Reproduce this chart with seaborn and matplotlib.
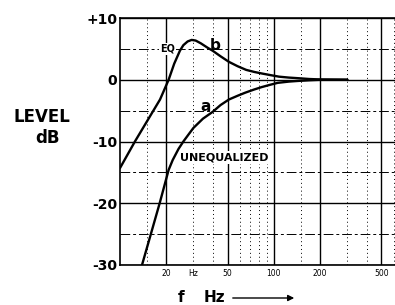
import pandas as pd
import seaborn as sns
import matplotlib.pyplot as plt

# Response curves (frequency in Hz, level in dB)
eq_freq = [10, 12.5, 15, 18.2, 20.7, 22.5, 24.5, 25.8, 27.5, 29.2, 31, 33.5, 37, 40, 45, 51, 58, 66, 75, 84,
           95, 108, 125, 144, 170, 200, 300]
eq_level = [-14.3, -10, -6.7, -3.2, 0, 2.6, 4.7, 5.6, 6.2, 6.45, 6.35, 5.9, 5.2, 4.7, 3.8, 2.9, 2.2, 1.6, 1.25, 1.0,
            0.75, 0.5, 0.35, 0.25, 0.12, 0.05, 0]

uneq_freq = [13.9, 18.1, 20.7, 22, 24, 25.8, 28, 30, 34.6, 40, 45, 51, 58, 65, 74, 83, 95, 106, 125, 142, 170, 200, 300]
uneq_level = [-30, -20, -14.6, -13, -11.2, -10, -8.8, -7.8, -6.3, -5.2, -4.1, -3.2, -2.6, -2.1, -1.6, -1.2, -0.8, -0.5,
              -0.3, -0.2, -0.08, 0, 0]

level_ticks = [-30, -20, -10, 0, 10]
level_labels = ["-30", "-20", "-10", "0", "+10"]
freq_ticks = [20, 50, 100, 200, 500]
freq_labels = ["20", "50", "100", "200", "500"]
freq_minor = [15, 30, 40, 60, 70, 80, 90, 150, 300, 400, 600]
freq_minor_labels = ["", "Hz", "", "", "", "", "", "", "", "", ""]

curves = pd.concat([
    pd.DataFrame({"f": eq_freq, "dB": eq_level, "curve": "b"}),
    pd.DataFrame({"f": uneq_freq, "dB": uneq_level, "curve": "a"}),
])

sns.set_style("white")
plt.rcParams["font.family"] = ["DejaVu Sans"]
plt.rcParams["text.color"] = "black"
plt.rcParams["xtick.color"] = "black"
plt.rcParams["ytick.color"] = "black"

fig = plt.figure(figsize=(3.95, 3.05), dpi=100)
ax = fig.add_axes([120 / 395, 40 / 305, 275 / 395, 247 / 305])

sns.lineplot(data=curves, x="f", y="dB", units="curve", estimator=None, color="black",
             linewidth=1.7, ax=ax, legend=False, solid_joinstyle="round", solid_capstyle="round")

ax.set_xscale("log")
ax.set_xlim(10, 612)
ax.set_ylim(-30, 10)

ax.set_yticks(level_ticks, labels=level_labels, fontsize=10, fontweight="bold")
ax.set_yticks([-25, -15, -5, 5], minor=True)
ax.set_xticks(freq_ticks, labels=freq_labels, fontsize=5.5)
ax.set_xticks(freq_minor, labels=freq_minor_labels, minor=True, fontsize=5.5)
ax.tick_params(axis="both", which="both", length=0, colors="black")
ax.tick_params(axis="y", pad=2)
ax.tick_params(axis="x", which="both", pad=3)

ax.grid(which="major", color="black", linewidth=1.0, linestyle="-")
ax.grid(which="minor", axis="x", color="black", linewidth=0.7, linestyle=(0, (1, 3)))
ax.grid(which="minor", axis="y", color="black", linewidth=0.7, linestyle=(0, (10, 3, 3, 3)))
ax.set_axisbelow(True)

for side in ["left", "bottom", "top"]:
    ax.spines[side].set_color("black")
    ax.spines[side].set_linewidth(1.2)
ax.spines["right"].set_visible(False)

ax.set_xlabel("")
ax.set_ylabel("")

# curve labels
ax.text(20.4, 5, "EQ", fontsize=7, fontweight="bold", ha="center", va="center",
        bbox=dict(facecolor="white", edgecolor="none", pad=1))
ax.text(41.5, 5.6, "b", fontsize=11, fontweight="bold", ha="center", va="center")
ax.text(36.2, -4.4, "a", fontsize=11, fontweight="bold", ha="center", va="center")
ax.text(24.6, -12.6, "UNEQUALIZED", fontsize=8, fontweight="bold", ha="left", va="center",
        bbox=dict(facecolor="white", edgecolor="none", pad=1))

# axis titles
fig.text(42 / 395, 1 - 117 / 305, "LEVEL", fontsize=12, fontweight="bold", ha="center", va="center")
fig.text(48 / 395, 1 - 138 / 305, "dB", fontsize=12, fontweight="bold", ha="center", va="center")
fig.text(181 / 395, 1 - 297 / 305, "f", fontsize=11, fontweight="bold", ha="center", va="center")
fig.text(214 / 395, 1 - 297 / 305, "Hz", fontsize=11, fontweight="bold", ha="center", va="center")
ax.annotate("", xy=(297 / 395, 1 - 298 / 305), xytext=(230 / 395, 1 - 298 / 305),
            xycoords="figure fraction", textcoords="figure fraction",
            arrowprops=dict(arrowstyle="-|>", color="black", linewidth=1.0, mutation_scale=9))

fig.savefig("out.png", dpi=100)
